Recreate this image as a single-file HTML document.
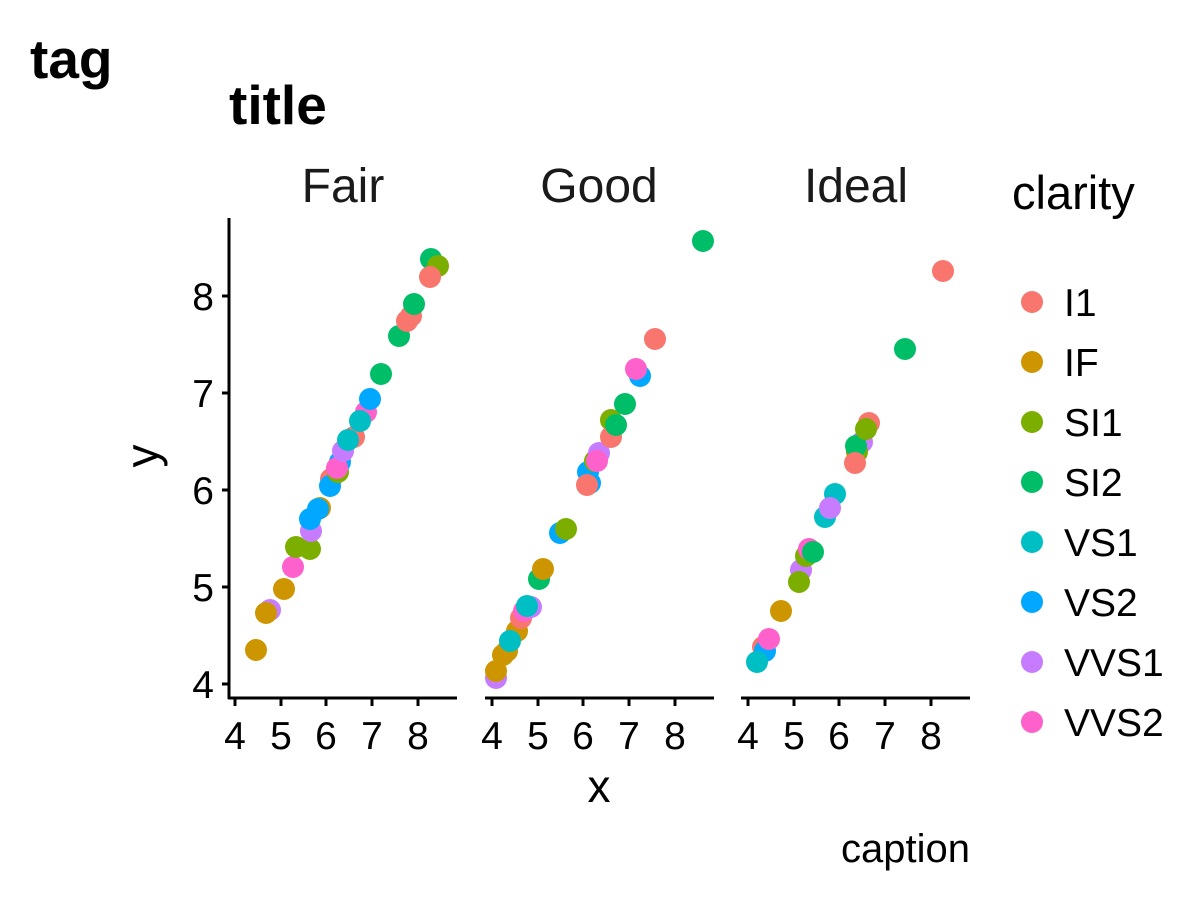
<!DOCTYPE html>
<html><head><meta charset="utf-8"><style>html,body{margin:0;background:#fff}</style></head><body>
<svg width="1200" height="900" xmlns="http://www.w3.org/2000/svg" font-family="Liberation Sans, sans-serif">
<rect width="1200" height="900" fill="#fff"/>
<text x="30" y="78" font-size="55" font-weight="bold">tag</text>
<text x="229" y="124" font-size="55" font-weight="bold">title</text>
<g font-size="48" fill="#1a1a1a" text-anchor="middle">
<text x="343" y="202">Fair</text><text x="599" y="202">Good</text><text x="856" y="202">Ideal</text>
</g>
<g stroke="#000" stroke-width="3">
<line x1="229" y1="218" x2="229" y2="699"/>
<line x1="228" y1="698" x2="457" y2="698"/>
<line x1="485" y1="698" x2="714" y2="698"/>
<line x1="741" y1="698" x2="970" y2="698"/>
<line x1="222" y1="296" x2="229" y2="296"/><line x1="222" y1="393" x2="229" y2="393"/><line x1="222" y1="490" x2="229" y2="490"/><line x1="222" y1="587" x2="229" y2="587"/><line x1="222" y1="684" x2="229" y2="684"/>
<g id="t"><line x1="235" y1="698" x2="235" y2="706"/><line x1="281" y1="698" x2="281" y2="706"/><line x1="326" y1="698" x2="326" y2="706"/><line x1="372" y1="698" x2="372" y2="706"/><line x1="418" y1="698" x2="418" y2="706"/></g>
<use href="#t" x="257"/><use href="#t" x="513"/>
</g>
<g font-size="39" fill="#000" text-anchor="end">
<text x="214" y="310">8</text><text x="214" y="407">7</text><text x="214" y="504">6</text><text x="214" y="601">5</text><text x="214" y="698">4</text>
</g>
<g font-size="39" fill="#000" text-anchor="middle" id="xl">
<text x="235" y="749">4</text><text x="281" y="749">5</text><text x="326" y="749">6</text><text x="372" y="749">7</text><text x="418" y="749">8</text>
</g>
<use href="#xl" x="257"/><use href="#xl" x="513"/>
<text x="599" y="802" font-size="46" text-anchor="middle">x</text>
<text transform="translate(158,456) rotate(-90)" font-size="46" text-anchor="middle">y</text>
<text x="970" y="862" font-size="40" text-anchor="end">caption</text>
<text x="1012" y="209" font-size="47">clarity</text>
<g font-size="39">
<circle cx="1032" cy="302" r="11" fill="#F8766D"/><text x="1064" y="316">I1</text>
<circle cx="1032" cy="362" r="11" fill="#CD9600"/><text x="1064" y="376">IF</text>
<circle cx="1032" cy="422" r="11" fill="#7CAE00"/><text x="1064" y="436">SI1</text>
<circle cx="1032" cy="482" r="11" fill="#00BE67"/><text x="1064" y="496">SI2</text>
<circle cx="1032" cy="542" r="11" fill="#00BFC4"/><text x="1064" y="556">VS1</text>
<circle cx="1032" cy="602" r="11" fill="#00A9FF"/><text x="1064" y="616">VS2</text>
<circle cx="1032" cy="662" r="11" fill="#C77CFF"/><text x="1064" y="676">VVS1</text>
<circle cx="1032" cy="722" r="11" fill="#FF61CC"/><text x="1064" y="736">VVS2</text>
</g>
<g>
<circle cx="256" cy="650" r="11" fill="#CD9600"/><circle cx="270" cy="610" r="11" fill="#C77CFF"/><circle cx="266" cy="613" r="11" fill="#CD9600"/><circle cx="284" cy="589" r="11" fill="#CD9600"/><circle cx="293" cy="567" r="11" fill="#FF61CC"/><circle cx="296" cy="547" r="11" fill="#7CAE00"/><circle cx="310" cy="549" r="11" fill="#7CAE00"/><circle cx="311" cy="531" r="11" fill="#C77CFF"/><circle cx="310" cy="519" r="11" fill="#00A9FF"/><circle cx="320" cy="508" r="11" fill="#CD9600"/><circle cx="318" cy="509" r="11" fill="#00A9FF"/><circle cx="331" cy="479" r="11" fill="#F8766D"/><circle cx="330" cy="486" r="11" fill="#00A9FF"/><circle cx="338" cy="472" r="11" fill="#7CAE00"/><circle cx="340" cy="462" r="11" fill="#00A9FF"/><circle cx="337" cy="468" r="11" fill="#FF61CC"/><circle cx="343" cy="451" r="11" fill="#C77CFF"/><circle cx="354" cy="437" r="11" fill="#F8766D"/><circle cx="348" cy="440" r="11" fill="#00BFC4"/><circle cx="366" cy="412" r="11" fill="#FF61CC"/><circle cx="360" cy="421" r="11" fill="#00BFC4"/><circle cx="370" cy="399" r="11" fill="#00A9FF"/><circle cx="381" cy="374" r="11" fill="#00BE67"/><circle cx="399" cy="336" r="11" fill="#00BE67"/><circle cx="407" cy="321" r="11" fill="#F8766D"/><circle cx="411" cy="316" r="11" fill="#F8766D"/><circle cx="414" cy="304" r="11" fill="#00BE67"/><circle cx="431" cy="259" r="11" fill="#00BE67"/><circle cx="438" cy="266" r="11" fill="#7CAE00"/><circle cx="430" cy="277" r="11" fill="#F8766D"/>
<circle cx="496" cy="678" r="11" fill="#C77CFF"/><circle cx="496" cy="671" r="11" fill="#CD9600"/><circle cx="503" cy="655" r="11" fill="#CD9600"/><circle cx="507" cy="651" r="11" fill="#CD9600"/><circle cx="517" cy="631" r="11" fill="#CD9600"/><circle cx="521" cy="618" r="11" fill="#F8766D"/><circle cx="524" cy="611" r="11" fill="#FF61CC"/><circle cx="531" cy="607" r="11" fill="#C77CFF"/><circle cx="510" cy="641" r="11" fill="#00BFC4"/><circle cx="527" cy="606" r="11" fill="#00BFC4"/><circle cx="539" cy="579" r="11" fill="#00BE67"/><circle cx="543" cy="569" r="11" fill="#CD9600"/><circle cx="560" cy="533" r="11" fill="#00A9FF"/><circle cx="566" cy="529" r="11" fill="#7CAE00"/><circle cx="588" cy="472" r="11" fill="#00A9FF"/><circle cx="590" cy="483" r="11" fill="#00A9FF"/><circle cx="587" cy="485" r="11" fill="#F8766D"/><circle cx="595" cy="461" r="11" fill="#7CAE00"/><circle cx="599" cy="453" r="11" fill="#C77CFF"/><circle cx="597" cy="461" r="11" fill="#FF61CC"/><circle cx="611" cy="420" r="11" fill="#7CAE00"/><circle cx="611" cy="437" r="11" fill="#F8766D"/><circle cx="616" cy="425" r="11" fill="#00BE67"/><circle cx="625" cy="404" r="11" fill="#00BE67"/><circle cx="640" cy="376" r="11" fill="#00A9FF"/><circle cx="636" cy="369" r="11" fill="#FF61CC"/><circle cx="655" cy="339" r="11" fill="#F8766D"/><circle cx="703" cy="241" r="11" fill="#00BE67"/>
<circle cx="763" cy="647" r="11" fill="#F8766D"/><circle cx="765" cy="651" r="11" fill="#00A9FF"/><circle cx="757" cy="662" r="11" fill="#00BFC4"/><circle cx="769" cy="639" r="11" fill="#FF61CC"/><circle cx="781" cy="611" r="11" fill="#CD9600"/><circle cx="801" cy="570" r="11" fill="#C77CFF"/><circle cx="799" cy="582" r="11" fill="#7CAE00"/><circle cx="806" cy="556" r="11" fill="#7CAE00"/><circle cx="809" cy="549" r="11" fill="#FF61CC"/><circle cx="813" cy="552" r="11" fill="#00BE67"/><circle cx="825" cy="517" r="11" fill="#00BFC4"/><circle cx="835" cy="494" r="11" fill="#00BFC4"/><circle cx="830" cy="508" r="11" fill="#C77CFF"/><circle cx="862" cy="442" r="11" fill="#C77CFF"/><circle cx="857" cy="452" r="11" fill="#7CAE00"/><circle cx="856" cy="446" r="11" fill="#00BE67"/><circle cx="855" cy="463" r="11" fill="#F8766D"/><circle cx="869" cy="423" r="11" fill="#F8766D"/><circle cx="866" cy="429" r="11" fill="#7CAE00"/><circle cx="905" cy="349" r="11" fill="#00BE67"/><circle cx="943" cy="271" r="11" fill="#F8766D"/>
</g>
</svg>
</body></html>
